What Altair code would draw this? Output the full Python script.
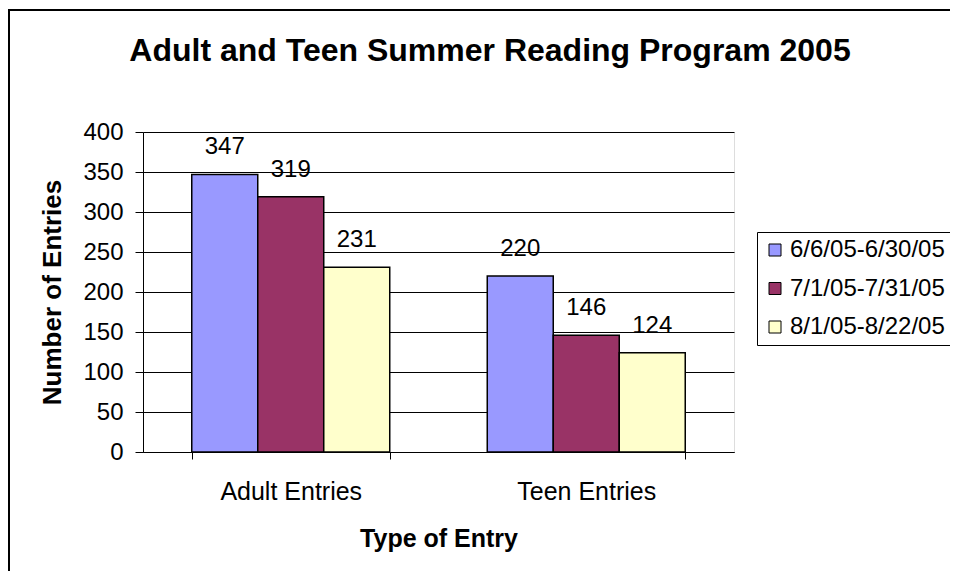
import altair as alt
import pandas as pd

title_text = "Adult and Teen Summer Reading Program 2005"
categories = ["Adult Entries", "Teen Entries"]
periods = ["6/6/05-6/30/05", "7/1/05-7/31/05", "8/1/05-8/22/05"]
values = {
    "6/6/05-6/30/05": [347, 220],
    "7/1/05-7/31/05": [319, 146],
    "8/1/05-8/22/05": [231, 124],
}
colors = ["#9999FF", "#993366", "#FFFFCC"]
y_ticks = [0, 50, 100, 150, 200, 250, 300, 350, 400]

rows = []
for p in periods:
    for c, v in zip(categories, values[p]):
        rows.append({"Type": c, "Period": p, "Entries": v})
df = pd.DataFrame(rows)

FONT = "Liberation Sans"

x_enc = alt.X(
    "Type:N",
    sort=categories,
    scale=alt.Scale(paddingInner=0.33, paddingOuter=0.165),
    axis=alt.Axis(
        title="Type of Entry",
        labelAngle=0,
        tickBand="extent",
        tickSize=7,
        tickColor="black",
        domainColor="black",
        labelFontSize=25,
        labelFont=FONT,
        labelColor="black",
        labelPadding=20,
        titleFontSize=25,
        titleFont=FONT,
        titleFontWeight="bold",
        titleColor="black",
        titlePadding=22,
    ),
)
y_enc = alt.Y(
    "Entries:Q",
    scale=alt.Scale(domain=[0, 400], nice=False),
    axis=alt.Axis(
        title="Number of Entries",
        values=y_ticks,
        labelOverlap=False,
        grid=True,
        gridColor="black",
        gridWidth=1,
        gridOpacity=1,
        tickSize=8,
        tickColor="black",
        domainColor="black",
        labelFontSize=24,
        labelFont=FONT,
        labelColor="black",
        labelPadding=12,
        titleFontSize=26,
        titleFont=FONT,
        titleFontWeight="bold",
        titleColor="black",
        titlePadding=17,
    ),
)
xoff = alt.XOffset("Period:N", sort=periods, scale=alt.Scale(paddingInner=0, paddingOuter=0))
color_enc = alt.Color(
    "Period:N",
    sort=periods,
    scale=alt.Scale(domain=periods, range=colors),
    legend=alt.Legend(
        orient="none",
        legendX=614,
        legendY=100,
        title=None,
        labelFontSize=24,
        labelFont=FONT,
        labelColor="black",
        labelLimit=400,
        symbolType="square",
        symbolSize=144,
        symbolStrokeColor="black",
        symbolStrokeWidth=1,
        symbolOpacity=1,
        strokeColor="black",
        fillColor="white",
        padding=6,
        rowPadding=14.5,
        labelOffset=3,
    ),
)

one = pd.DataFrame({"t": [title_text]})

border = alt.Chart(one).mark_rect(
    fillOpacity=0, stroke="black", strokeWidth=2
).encode(
    x=alt.value(-134), x2=alt.value(1000), y=alt.value(-122), y2=alt.value(700)
)

title = alt.Chart(one).mark_text(
    fontSize=32, font=FONT, fontWeight="bold", color="black",
    align="center", baseline="alphabetic"
).encode(
    x=alt.value(347), y=alt.value(-71), text="t:N"
)

base = alt.Chart(df).encode(x=x_enc, y=y_enc, xOffset=xoff)

bars = base.mark_bar(stroke="black", strokeWidth=1.5).encode(color=color_enc)

labels = base.mark_text(
    baseline="alphabetic", dy=-20, fontSize=24, font=FONT, color="black"
).encode(text=alt.Text("Entries:Q"))

chart = alt.layer(border, title, bars, labels).properties(
    width=591,
    height=320,
    padding={"left": 135, "top": 124, "right": 216, "bottom": 119},
    autosize=alt.AutoSizeParams(type="none"),
).configure_view(
    fill="#C0C0C0", stroke="#808080", strokeWidth=1
).configure(background="white")

chart.save("out.html", embed_options={"renderer": "svg", "actions": False})
